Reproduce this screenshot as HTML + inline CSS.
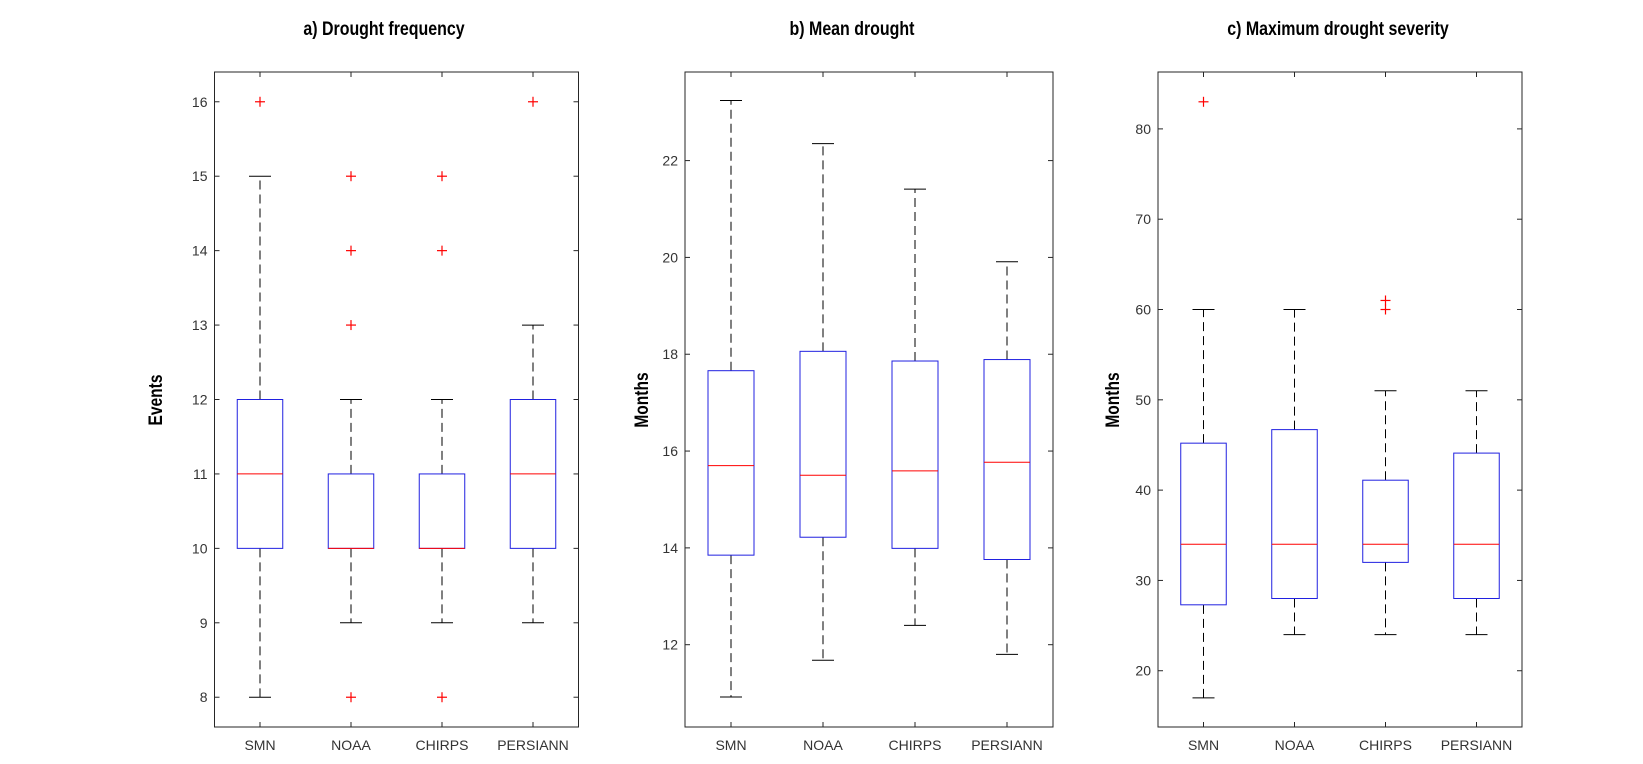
<!DOCTYPE html>
<html><head><meta charset="utf-8"><style>
body{margin:0;background:#fff;}
svg text{font-family:"Liberation Sans",Arial,sans-serif;}
</style></head><body>
<svg id="chart" width="1643" height="759" viewBox="0 0 1643 759" xmlns="http://www.w3.org/2000/svg"></svg>
<script>
const categories = ["SMN","NOAA","CHIRPS","PERSIANN"];
// panel a: drought frequency
const aWhiskLow = [8, 9, 9, 9];
const aQ1 = [10, 10, 10, 10];
const aMedian = [11, 10, 10, 11];
const aQ3 = [12, 11, 11, 12];
const aWhiskHigh = [15, 12, 12, 13];
const aOutliers = [[16], [15, 14, 13, 8], [15, 14, 8], [16]];
const aTicks = [8, 9, 10, 11, 12, 13, 14, 15, 16];
// panel b: mean drought
const bWhiskLow = [10.92, 11.68, 12.40, 11.80];
const bQ1 = [13.85, 14.22, 13.99, 13.76];
const bMedian = [15.70, 15.50, 15.59, 15.77];
const bQ3 = [17.66, 18.06, 17.86, 17.89];
const bWhiskHigh = [23.24, 22.35, 21.41, 19.91];
const bOutliers = [[], [], [], []];
const bTicks = [12, 14, 16, 18, 20, 22];
// panel c: maximum drought severity
const cWhiskLow = [17, 24, 24, 24];
const cQ1 = [27.3, 28, 32, 28];
const cMedian = [34, 34, 34, 34];
const cQ3 = [45.2, 46.7, 41.1, 44.1];
const cWhiskHigh = [60, 60, 51, 51];
const cOutliers = [[83], [], [61, 60], []];
const cTicks = [20, 30, 40, 50, 60, 70, 80];

const NS = "http://www.w3.org/2000/svg";
const svg = document.getElementById("chart");
function mk(tag, attrs, parent){
  const e = document.createElementNS(NS, tag);
  for (const k in attrs) e.setAttribute(k, attrs[k]);
  (parent || svg).appendChild(e);
  return e;
}

function panel(p){
  const g = mk("g", {});
  
  
  const top = 72, bot = 727;
  const y = v => bot - (v - p.ymin) / (p.ymax - p.ymin) * (bot - top);
  const x = i => p.left + (i + 0.5) / 4 * (p.right - p.left);
  const bw = (p.right - p.left) / 4 * 0.5;
  const cw = 22;
  const box = mk("rect", {x:p.left, y:top, width:p.right-p.left, height:bot-top, fill:"none", stroke:"#262626", "stroke-width":1}, g);
  
  
  p.ticks.forEach(t => {
    const yy = y(t);
    mk("line", {x1:p.left, x2:p.left+5, y1:yy, y2:yy, stroke:"#262626"}, g);
    mk("line", {x1:p.right, x2:p.right-5, y1:yy, y2:yy, stroke:"#262626"}, g);
    const tl = mk("text", {x:p.left-7, y:yy+5, "text-anchor":"end", "font-size":14, fill:"#333"}, g);
    tl.textContent = t;
    
    
  });
  categories.forEach((c, i) => {
    const xx = x(i);
    mk("line", {x1:xx, x2:xx, y1:bot, y2:bot-5, stroke:"#262626"}, g);
    mk("line", {x1:xx, x2:xx, y1:top, y2:top+5, stroke:"#262626"}, g);
    const tl = mk("text", {x:xx, y:750, "text-anchor":"middle", "font-size":14, fill:"#333"}, g);
    tl.textContent = c;
    
    
  });
  categories.forEach((c, i) => {
    const xx = x(i);
    const bg = mk("g", {}, g);
    
    
    const dash = {stroke:"#000", "stroke-dasharray":"9,5", "stroke-width":1};
    mk("line", Object.assign({x1:xx, x2:xx, y1:y(p.q3[i]), y2:y(p.hi[i])}, dash), bg);
    mk("line", Object.assign({x1:xx, x2:xx, y1:y(p.q1[i]), y2:y(p.lo[i])}, dash), bg);
    mk("line", {x1:xx-cw/2, x2:xx+cw/2, y1:y(p.hi[i]), y2:y(p.hi[i]), stroke:"#000"}, bg);
    mk("line", {x1:xx-cw/2, x2:xx+cw/2, y1:y(p.lo[i]), y2:y(p.lo[i]), stroke:"#000"}, bg);
    mk("rect", {x:xx-bw/2, y:y(p.q3[i]), width:bw, height:y(p.q1[i])-y(p.q3[i]), fill:"none", stroke:"#2020e0", "stroke-width":1}, bg);
    mk("line", {x1:xx-bw/2, x2:xx+bw/2, y1:y(p.med[i]), y2:y(p.med[i]), stroke:"#ff0000"}, bg);
    p.out[i].forEach(o => {
      const yy = y(o);
      const og = mk("g", {stroke:"#ff0000", "stroke-width":1.2}, bg);
      
      
      mk("line", {x1:xx-5, x2:xx+5, y1:yy, y2:yy}, og);
      mk("line", {x1:xx, x2:xx, y1:yy-5, y2:yy+5}, og);
    });
  });
  const t = mk("text", {x:p.titleX, y:35, "text-anchor":"middle", "font-size":19, "font-weight":"bold", fill:"#000", transform:`translate(${p.titleX} 0) scale(0.84 1) translate(${-p.titleX} 0)`}, g);
  t.textContent = p.title;
  
  
  const yl = mk("text", {x:0, y:0, "text-anchor":"middle", "font-size":19, "font-weight":"bold", fill:"#000", transform:`translate(${p.ylabX} 400) rotate(-90) scale(0.82 1)`}, g);
  yl.textContent = p.ylabel;
  
  
}

panel({name:"panel-a-drought-frequency", left:214.5, right:578.5, ymin:7.6, ymax:16.4, ticks:aTicks,
  lo:aWhiskLow, q1:aQ1, med:aMedian, q3:aQ3, hi:aWhiskHigh, out:aOutliers,
  title:"a) Drought frequency", titleX:384, ylabel:"Events", ylabX:162});
panel({name:"panel-b-mean-drought", left:685, right:1053, ymin:10.3, ymax:23.83, ticks:bTicks,
  lo:bWhiskLow, q1:bQ1, med:bMedian, q3:bQ3, hi:bWhiskHigh, out:bOutliers,
  title:"b) Mean drought", titleX:852, ylabel:"Months", ylabX:648});
panel({name:"panel-c-maximum-drought-severity", left:1158, right:1522, ymin:13.77, ymax:86.3, ticks:cTicks,
  lo:cWhiskLow, q1:cQ1, med:cMedian, q3:cQ3, hi:cWhiskHigh, out:cOutliers,
  title:"c) Maximum drought severity", titleX:1338, ylabel:"Months", ylabX:1119});
</script>
</body></html>
